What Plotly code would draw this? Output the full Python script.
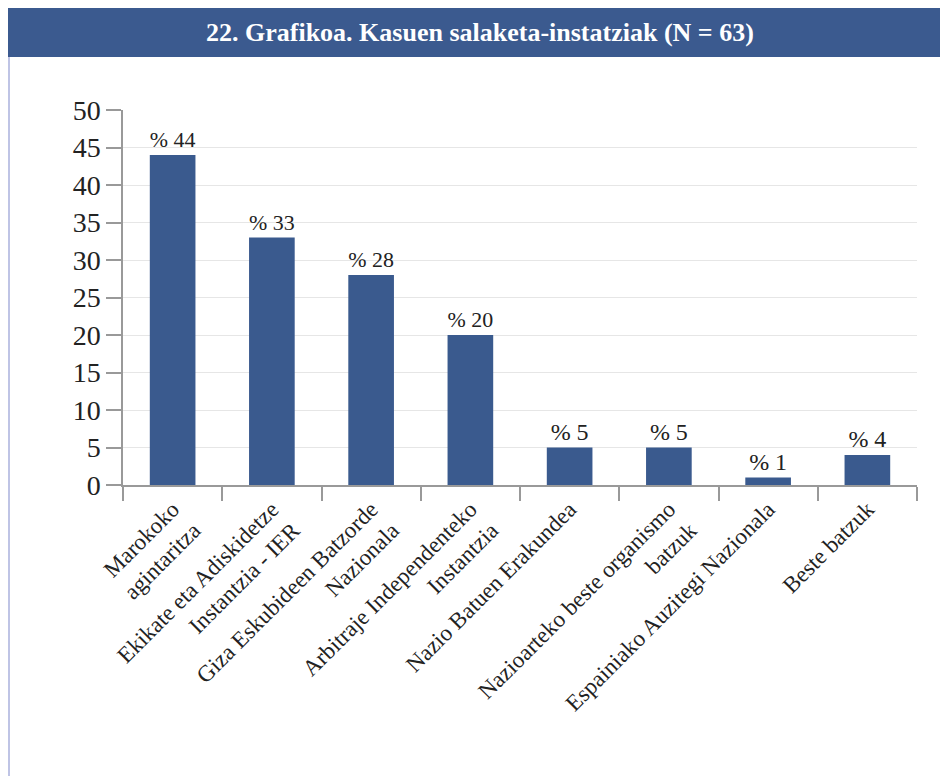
import plotly.graph_objects as go

title_text = "22. Grafikoa. Kasuen salaketa-instatziak (N = 63)"
categories = [
    "Marokoko<br>agintaritza",
    "Ekikate eta Adiskidetze<br>Instantzia - IER",
    "Giza Eskubideen Batzorde<br>Nazionala",
    "Arbitraje Independenteko<br>Instantzia",
    "Nazio Batuen Erakundea",
    "Nazioarteko beste organismo<br>batzuk",
    "Espainiako Auzitegi Nazionala",
    "Beste batzuk",
]
values = [44, 33, 28, 20, 5, 5, 1, 4]
y_ticks = [0, 5, 10, 15, 20, 25, 30, 35, 40, 45, 50]

OFF = 8  # page body margin
W, H = 948 - OFF, 776 - OFF
L = 123 - OFF
T = 110 - OFF
R = 948 - 917
B = 776 - 485
pw, ph = W - L - R, H - T - B

def px(x):
    return (x - OFF - L) / pw

def py(y):
    return (H - B - (y - OFF)) / ph

bar_color = "#3A5A8E"
font_family = "Times New Roman, Liberation Serif, serif"

fig = go.Figure(
    go.Bar(
        x=categories,
        y=values,
        marker=dict(color=bar_color, line=dict(width=0)),
        width=0.46,
        text=["% " + str(v) for v in values],
        textposition="outside",
        textfont=dict(family=font_family, size=24, color="#222"),
        cliponaxis=False,
    )
)

fig.update_layout(
    width=W,
    height=H,
    margin=dict(l=L, r=R, t=T, b=B),
    paper_bgcolor="white",
    plot_bgcolor="white",
    showlegend=False,
    font=dict(family=font_family, color="#222"),
)

fig.update_yaxes(
    range=[0, 50],
    tickvals=y_ticks,
    ticks="outside",
    ticklen=15,
    tickcolor="#999",
    tickwidth=1.5,
    showline=True,
    linecolor="#999",
    linewidth=1.5,
    showgrid=True,
    gridcolor="#e6e6e6",
    gridwidth=1,
    zeroline=False,
    tickfont=dict(size=28, family=font_family, color="#222"),
)

fig.update_xaxes(
    tickangle=-45,
    ticks="outside",
    tickson="boundaries",
    ticklen=14,
    tickcolor="#999",
    tickwidth=1.5,
    showline=True,
    linecolor="#999",
    linewidth=1.5,
    showgrid=False,
    tickfont=dict(size=23, family=font_family, color="#222"),
)

shapes = [
    dict(type="rect", xref="paper", yref="paper",
         x0=px(0), x1=px(950), y0=py(57), y1=py(5),
         fillcolor="#3B5A8F", line=dict(width=0), layer="above"),
    dict(type="line", xref="paper", yref="paper",
         x0=px(0), x1=px(950), y0=py(4.5), y1=py(4.5),
         line=dict(color="#888", width=1.5)),
    dict(type="line", xref="paper", yref="paper",
         x0=px(9), x1=px(9), y0=py(57), y1=py(780),
         line=dict(color="#aab0dd", width=1.5)),
]
fig.update_layout(shapes=shapes)

fig.add_annotation(
    xref="paper", yref="paper",
    x=px(480), y=py(32),
    text="<b>" + title_text + "</b>",
    showarrow=False,
    xanchor="center", yanchor="middle",
    font=dict(family=font_family, size=26, color="white"),
)

fig.write_html("out.html")
